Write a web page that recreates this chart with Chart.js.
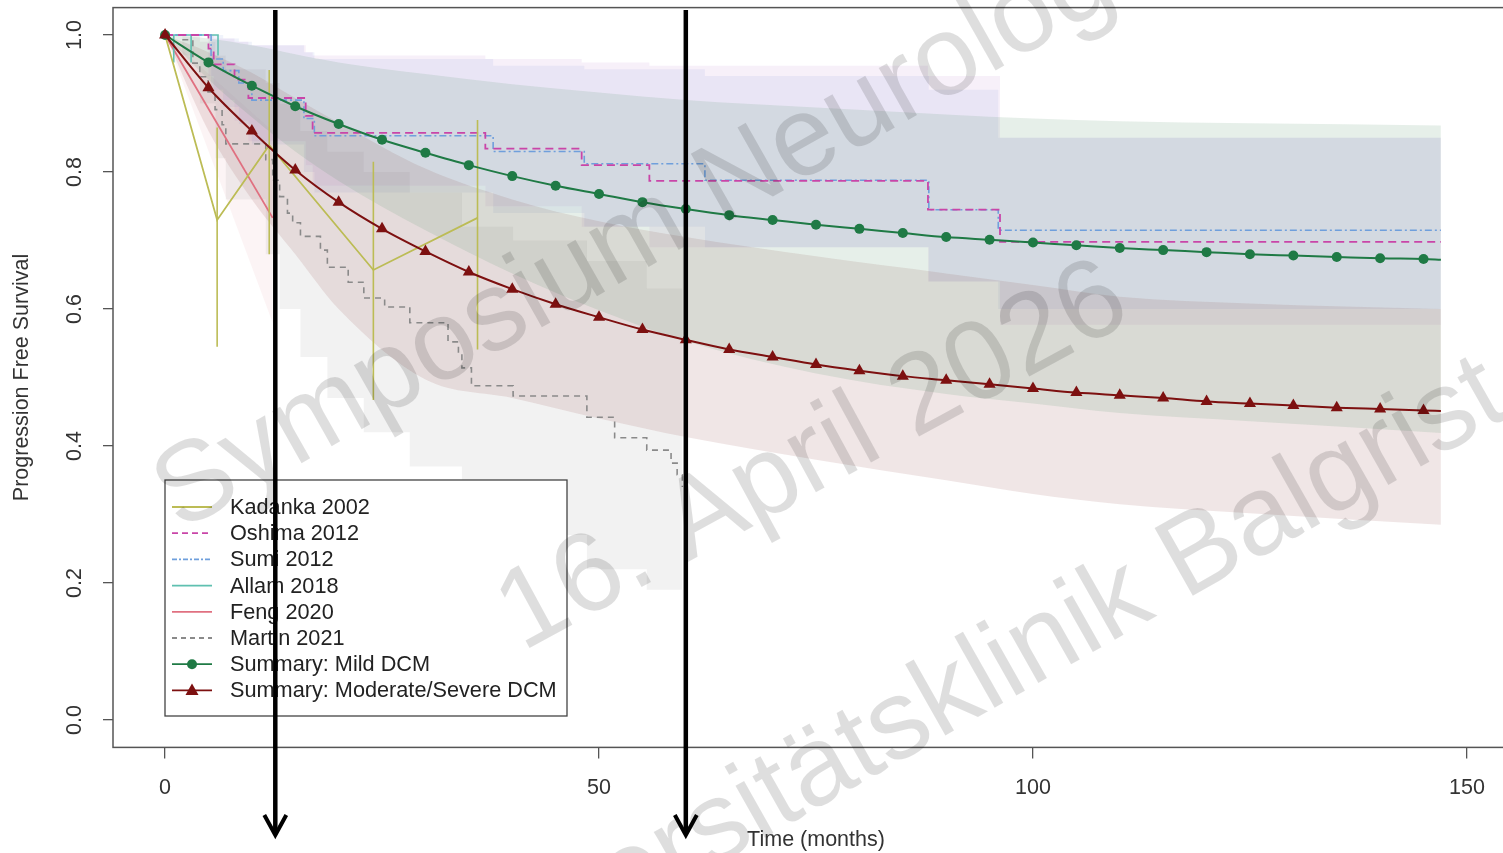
<!DOCTYPE html>
<html><head><meta charset="utf-8">
<script src="https://cdn.jsdelivr.net/npm/chart.js@4/dist/chart.umd.min.js"></script>
<style>html,body{margin:0;padding:0;overflow:hidden;background:#fff}canvas{display:block}</style>
</head><body>
<canvas id="c" width="1530" height="853"></canvas>
<script>
// ---------- data ----------
const xTicks = [0, 50, 100, 150];
const yTicks = [0, 0.2, 0.4, 0.6, 0.8, 1.0];

const sumT  = [0,5,10,15,20,25,30,35,40,45,50,55,60,65,70,75,80,85,90,95,100,105,110,115,120,125,130,135,140,145,147];
const mildS = [1.0,0.960,0.926,0.896,0.870,0.847,0.828,0.810,0.794,0.780,0.768,0.756,0.746,0.737,0.730,0.723,0.717,0.711,0.705,0.701,0.697,0.693,0.689,0.686,0.683,0.680,0.678,0.676,0.674,0.673,0.672];
const modS  = [1.0,0.923,0.860,0.803,0.756,0.717,0.684,0.654,0.629,0.607,0.588,0.570,0.555,0.541,0.530,0.519,0.510,0.502,0.496,0.490,0.484,0.478,0.474,0.470,0.465,0.462,0.459,0.456,0.454,0.452,0.451];

const ciT    = [0,5,10,15,20,30,40,50,60,75,90,100,110,125,147];
const mildHi = [1,0.995,0.985,0.972,0.960,0.943,0.928,0.916,0.905,0.894,0.884,0.878,0.874,0.871,0.868];
const mildLo = [1,0.935,0.880,0.830,0.787,0.715,0.652,0.598,0.553,0.506,0.476,0.462,0.448,0.436,0.419];
const modHi  = [1,0.975,0.945,0.908,0.872,0.805,0.760,0.728,0.705,0.677,0.652,0.635,0.618,0.608,0.600];
const modLo  = [1,0.860,0.760,0.680,0.600,0.497,0.470,0.440,0.413,0.380,0.350,0.330,0.315,0.302,0.285];

const kadT  = [0,6,12,24,36];
const kadS  = [1,0.730,0.839,0.657,0.733];
const kadLo = [null,0.545,0.680,0.467,0.541];
const kadHi = [null,0.865,0.949,0.815,0.876];

const oshT  = [0,5,5.6,8,9.6,16.2,17,36.9,48,55.8,87.9,96.2,147];
const oshS  = [1,0.980,0.957,0.935,0.908,0.882,0.857,0.834,0.810,0.787,0.745,0.698,0.698];
const oshHi = [1,1,0.995,0.990,0.985,0.975,0.970,0.965,0.960,0.955,0.940,0.850,0.850];
const oshLo = [1,0.940,0.905,0.875,0.845,0.810,0.780,0.750,0.720,0.690,0.640,0.577,0.577];

const sumiT  = [0,5.3,6.7,8.5,10,16,17.2,37.8,48.3,62.2,88,96,147];
const sumiS  = [1,0.965,0.948,0.930,0.905,0.878,0.853,0.830,0.812,0.788,0.745,0.715,0.715];
const sumiHi = [1,1,0.995,0.990,0.985,0.975,0.965,0.955,0.950,0.940,0.920,0.850,0.850];
const sumiLo = [1,0.920,0.895,0.870,0.840,0.800,0.770,0.740,0.720,0.690,0.640,0.600,0.600];

const allamT = [0,1,1,1,3,3,3,6.1,6.1];
const allamS = [1,1,0.96,1,1,0.96,1,1,0.97];

const fengT  = [0,12.4];
const fengS  = [1,0.733];
const fengHi = [1,0.86];
const fengLo = [1,0.58];

const martinT = [0,1.96,3.2,4.0,4.95,5.76,6.57,7.0,11.6,12.4,13.2,14.1,14.7,15.6,17.9,18.7,21.1,22.9,25.3,28.2,32.6,33.8,34.2,35.3,40.1,48.6,51.8,55.5,58.3,59.0,59.6];
const martinS = [1,0.993,0.959,0.939,0.917,0.891,0.869,0.841,0.818,0.788,0.764,0.740,0.726,0.706,0.686,0.661,0.639,0.616,0.603,0.580,0.552,0.536,0.514,0.488,0.473,0.442,0.412,0.394,0.375,0.358,0.340];
const martinCiT = [0,2,4,5.8,7,11.6,13.2,15.6,18.7,22.9,28.2,34.2,40.1,48.6,55.5,59.6];
const martinHi  = [1,1,0.99,0.97,0.95,0.93,0.90,0.86,0.83,0.80,0.77,0.72,0.70,0.67,0.63,0.60];
const martinLo  = [1,0.97,0.90,0.82,0.76,0.68,0.60,0.53,0.47,0.42,0.37,0.31,0.27,0.22,0.19,0.17];

const arrowMonths = [12.7, 60];

const legendLabels = ['Kadanka 2002','Oshima 2012','Sumi 2012','Allam 2018','Feng 2020','Martin 2021','Summary: Mild DCM','Summary: Moderate/Severe DCM'];
const watermark = ['Symposium Neurologie','16. April 2026','Universitätsklinik Balgrist'];

// ---------- styles ----------
const C = {
  kad:'#bcbc55', osh:'#c945a8', sumi:'#6f9fdc', allam:'#5fc0b0', feng:'#e07080', martin:'#8a8a8a',
  mild:'#1f7a45', mod:'#7d1010'
};
const FONT = '"Liberation Sans", Arial, sans-serif';

function pts(t, v){ const o=[]; for(let i=0;i<t.length;i++){ if(v[i]!==null && v[i]!==undefined) o.push({x:t[i], y:v[i]}); } return o; }

const datasets = [];
function band(t, hi, lo, color, stepped){
  const common = {borderColor:'rgba(0,0,0,0)', borderWidth:0, pointRadius:0, stepped: stepped,
                  cubicInterpolationMode: stepped ? 'default' : 'monotone', order: 10};
  datasets.push(Object.assign({data: pts(t,hi), fill:'+1', backgroundColor: color}, common));
  datasets.push(Object.assign({data: pts(t,lo), fill:false}, common));
}
band(ciT, mildHi, mildLo, 'rgba(88,148,108,0.15)', false);
band(ciT, modHi, modLo, 'rgba(150,80,80,0.14)', false);
band(oshT, oshHi, oshLo, 'rgba(180,110,200,0.10)', true);
band(sumiT, sumiHi, sumiLo, 'rgba(110,140,215,0.10)', true);
band(martinCiT, martinHi, martinLo, 'rgba(110,110,110,0.09)', true);
band(fengT, fengHi, fengLo, 'rgba(220,120,130,0.08)', false);

function line(t, v, color, dash, stepped, width){
  datasets.push({data: pts(t,v), borderColor: color, borderWidth: width||1.8, borderDash: dash||[],
    pointRadius:0, fill:false, stepped: !!stepped, order:5});
}
line(kadT, kadS, C.kad, [], false, 1.8);
for (let i=0;i<kadT.length;i++){
  if (kadLo[i]===null) continue;
  line([kadT[i],kadT[i]], [kadLo[i],kadHi[i]], C.kad, [], false, 1.6);
}
line(oshT, oshS, C.osh, [8,5], true, 1.8);
line(sumiT, sumiS, C.sumi, [7,3,2,3], true, 1.6);
line(allamT, allamS, C.allam, [], false, 1.6);
line(fengT, fengS, C.feng, [], false, 1.8);
line(martinT, martinS, C.martin, [6,5], true, 1.6);

datasets.push({data: pts(sumT, mildS), borderColor:C.mild, borderWidth:2, pointStyle:'circle',
  pointRadius: sumT.map(t => t===147 ? 0 : 5), pointBackgroundColor:C.mild, pointBorderWidth:0,
  cubicInterpolationMode:'monotone', fill:false, order:2});
datasets.push({data: pts(sumT, modS), borderColor:C.mod, borderWidth:2, pointStyle:'triangle',
  pointRadius: sumT.map(t => t===147 ? 0 : 7), pointBackgroundColor:C.mod, pointBorderWidth:0,
  cubicInterpolationMode:'monotone', fill:false, order:1});

// ---------- decorations ----------
const deco = {
  id:'deco',
  afterDatasetsDraw(chart){
    const ctx = chart.ctx, a = chart.chartArea, xs = chart.scales.x;
    ctx.save();
    // box
    ctx.strokeStyle = '#555'; ctx.lineWidth = 1.5;
    ctx.strokeRect(a.left, a.top, a.right - a.left, a.bottom - a.top);
    // legend
    const lx = 165, ly = 480, lw = 402, lh = 236;
    ctx.fillStyle = '#fff'; ctx.fillRect(lx, ly, lw, lh);
    ctx.strokeStyle = '#444'; ctx.lineWidth = 1.3; ctx.strokeRect(lx, ly, lw, lh);
    const styles = [
      {c:C.kad, d:[]},{c:C.osh, d:[6,4]},{c:C.sumi, d:[5,2,2,2]},{c:C.allam, d:[]},
      {c:C.feng, d:[]},{c:C.martin, d:[5,4]},{c:C.mild, d:[], m:'circle'},{c:C.mod, d:[], m:'triangle'}];
    ctx.font = '21.7px ' + FONT; ctx.textBaseline = 'middle'; ctx.textAlign = 'left';
    legendLabels.forEach((lab, i) => {
      const y = 507 + i * 26.2, s = styles[i];
      ctx.strokeStyle = s.c; ctx.lineWidth = 1.8; ctx.setLineDash(s.d);
      ctx.beginPath(); ctx.moveTo(172, y); ctx.lineTo(212, y); ctx.stroke(); ctx.setLineDash([]);
      ctx.fillStyle = s.c;
      if (s.m === 'circle'){ ctx.beginPath(); ctx.arc(192, y, 5, 0, Math.PI*2); ctx.fill(); }
      if (s.m === 'triangle'){ ctx.beginPath(); ctx.moveTo(192, y-7); ctx.lineTo(198.5, y+4.5); ctx.lineTo(185.5, y+4.5); ctx.closePath(); ctx.fill(); }
      ctx.fillStyle = '#222'; ctx.fillText(lab, 230, y + 1);
    });
    // watermark
    ctx.fillStyle = 'rgba(0,0,0,0.13)'; ctx.font = '113px ' + FONT; ctx.textBaseline = 'alphabetic';
    const wpos = [[180,532,-29.5],[522,652,-28.5],[425,1030,-29.5]];
    watermark.forEach((t,i) => {
      ctx.save(); ctx.translate(wpos[i][0], wpos[i][1]); ctx.rotate(wpos[i][2]*Math.PI/180);
      ctx.fillText(t, 0, 0); ctx.restore();
    });
    // arrows
    ctx.strokeStyle = '#000'; ctx.lineCap = 'butt';
    arrowMonths.forEach(m => {
      const x = xs.getPixelForValue(m);
      ctx.lineWidth = 4.5; ctx.beginPath(); ctx.moveTo(x, 10); ctx.lineTo(x, 834); ctx.stroke();
      ctx.lineWidth = 4; ctx.beginPath(); ctx.moveTo(x-11, 815); ctx.lineTo(x, 835); ctx.lineTo(x+11, 815); ctx.stroke();
    });
    ctx.restore();
  },
  afterDraw(chart){
    const ctx = chart.ctx, a = chart.chartArea, ys = chart.scales.y;
    ctx.save();
    ctx.fillStyle = '#333'; ctx.font = '21.5px ' + FONT; ctx.textAlign = 'center'; ctx.textBaseline = 'middle';
    yTicks.forEach(v => {
      const y = ys.getPixelForValue(v);
      ctx.save(); ctx.translate(75, y); ctx.rotate(-Math.PI/2); ctx.fillText(v.toFixed(1), 0, 0); ctx.restore();
    });
    ctx.save(); ctx.translate(22, (a.top + a.bottom)/2); ctx.rotate(-Math.PI/2);
    ctx.fillText('Progression Free Survival', 0, 0); ctx.restore();
    ctx.fillText('Time (months)', (a.left + a.right)/2, 840);
    ctx.restore();
  }
};

new Chart(document.getElementById('c'), {
  type:'line',
  data:{datasets},
  options:{
    responsive:false, animation:false, devicePixelRatio:1,
    layout:{padding:{left:0, right:11, top:7.6, bottom:0}},
    plugins:{legend:{display:false}, tooltip:{enabled:false}},
    scales:{
      x:{type:'linear', min:-6, max:156,
        afterBuildTicks: s => { s.ticks = xTicks.map(v => ({value:v})); },
        afterFit: s => { s.height = 105.6; },
        grid:{drawOnChartArea:false, drawTicks:true, tickLength:11, color:'#555', lineWidth:1.3},
        border:{display:false},
        ticks:{color:'#333', font:{family:FONT, size:21.5}, padding:17, maxRotation:0, autoSkip:false}
      },
      y:{type:'linear', min:-0.04, max:1.04,
        afterBuildTicks: s => { s.ticks = yTicks.map(v => ({value:v})); },
        afterFit: s => { s.width = 113; s.paddingTop = 0; s.paddingBottom = 0; },
        grid:{drawOnChartArea:false, drawTicks:true, tickLength:10, color:'#555', lineWidth:1.3},
        border:{display:false},
        ticks:{display:false}
      }
    }
  },
  plugins:[deco]
});
</script>
</body></html>
